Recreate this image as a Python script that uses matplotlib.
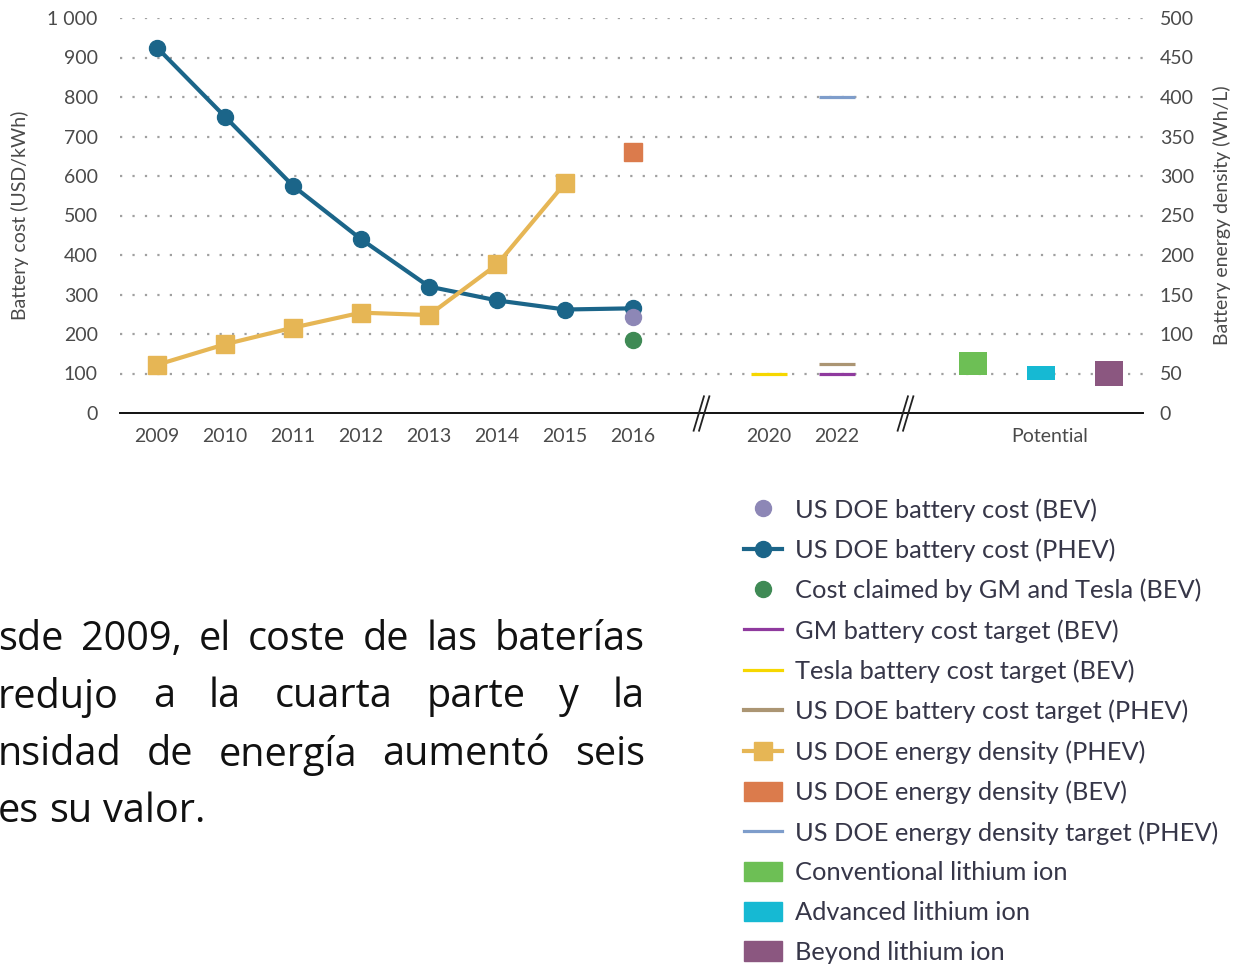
import matplotlib
matplotlib.use('Agg')
import matplotlib.pyplot as plt
from matplotlib.lines import Line2D
from matplotlib.patches import Patch
from matplotlib.path import Path

plt.rcParams['font.family'] = ['Lato', 'DejaVu Sans']

# positions on the x axis: 2009..2016, break, 2020, 2022, break, potential
years = ['2009', '2010', '2011', '2012', '2013', '2014', '2015', '2016']
year_pos = [0, 1, 2, 3, 4, 5, 6, 7]
target_labels = ['2020', '2022']
target_pos = [9, 10]
break_pos = [8, 11]
potential_pos = [12, 13, 14]

# battery cost (USD/kWh)
phev_cost = [925, 750, 575, 440, 320, 285, 262, 265]
bev_cost_2016 = 243
gm_tesla_cost_2016 = 185
tesla_target_2020 = 100
gm_target_2022 = 100
doe_phev_target_2022 = 125

# energy density (Wh/L)
phev_density = [61, 87, 108, 127, 124, 188, 291]
bev_density_2016 = 331
doe_density_target_2022 = 400

# potential ranges (USD/kWh): low, high
potential_low = [96, 84, 68]
potential_high = [154, 119, 132]
potential_names = ['Conventional lithium ion', 'Advanced lithium ion', 'Beyond lithium ion']
potential_colors = ['#6dbf55', '#16b9d3', '#8b5780']

c_blue = '#1b6589'
c_gold = '#e6b655'
grey = '#4a4a4a'

fig = plt.figure(figsize=(12.34, 9.65), dpi=100)
ax = fig.add_axes([120 / 1234, 1 - 413 / 965, (1143 - 120) / 1234, (413 - 18) / 965])
ax2 = ax.twinx()

ax.set_xlim(-0.545, 14.5)
ax.set_ylim(0, 1000)
ax2.set_ylim(0, 500)

for y in range(100, 1001, 100):
    ax.axhline(y, color='#a0a0a0', lw=1.6, ls=(0, (1, 4.6)), zorder=0)

# cost series
ax.plot(year_pos, phev_cost, color=c_blue, lw=3, marker='o', ms=11.5, zorder=4)
ax.plot([7], [bev_cost_2016], 'o', color='#8d87b6', ms=11.5, zorder=5, ls='none')
ax.plot([7], [gm_tesla_cost_2016], 'o', color='#3f8a55', ms=11.5, zorder=5, ls='none')
hw = 0.27
ax.hlines(tesla_target_2020, target_pos[0] - hw, target_pos[0] + hw, color='#f6d700', lw=2.3, zorder=4)
ax.hlines(gm_target_2022, target_pos[1] - hw, target_pos[1] + hw, color='#8f3a9e', lw=2.3, zorder=4)
ax.hlines(doe_phev_target_2022, target_pos[1] - hw, target_pos[1] + hw, color='#ab9573', lw=2.3, zorder=4)

# potential boxes
ax.bar(potential_pos, [h - l for h, l in zip(potential_high, potential_low)],
       bottom=potential_low, width=0.41, color=potential_colors, zorder=4)

# energy density series (right axis)
ax2.plot(year_pos[:7], phev_density, color=c_gold, lw=3, marker='s', ms=13, zorder=4)
ax2.plot([7], [bev_density_2016], 's', color='#db7b4c', ms=13.5, zorder=4)
ax2.hlines(doe_density_target_2022, target_pos[1] - hw, target_pos[1] + hw, color='#7e9dcb', lw=2.3, zorder=4)

# axis break marks: two slanted strokes
brk = Path([(-0.45, -1), (0.15, 1), (-0.15, -1), (0.45, 1)],
           [Path.MOVETO, Path.LINETO, Path.MOVETO, Path.LINETO])
ax.plot(break_pos, [0, 0], ls='none', marker=brk, ms=26, mew=1.3, color='#222222',
        clip_on=False, zorder=6)

for a in (ax, ax2):
    for s in ('top', 'left', 'right'):
        a.spines[s].set_visible(False)
    a.tick_params(length=0, labelsize=14, labelcolor=grey)
ax2.spines['bottom'].set_visible(False)
ax.spines['bottom'].set_color('#111111')
ax.spines['bottom'].set_linewidth(1.4)

ax.set_xticks(year_pos + target_pos + [13.13])
ax.set_xticklabels(years + target_labels + ['Potential'])
ax.tick_params(axis='x', pad=11)
ax.set_yticks(range(0, 1001, 100))
ax.set_yticklabels(['0'] + [str(v) for v in range(100, 1000, 100)] + ['1 000'])
ax.tick_params(axis='y', pad=16)
ax2.set_yticks(range(0, 501, 50))
ax2.tick_params(axis='y', pad=12)
ax.set_ylabel('Battery cost (USD/kWh)', fontsize=14, color=grey, labelpad=13)
ax2.set_ylabel('Battery energy density (Wh/L)', fontsize=14, color=grey, labelpad=14, rotation=90)

# legend
handles = [
    Line2D([], [], ls='none', marker='o', ms=11.5, color='#8d87b6'),
    Line2D([], [], color=c_blue, lw=3, marker='o', ms=11.5),
    Line2D([], [], ls='none', marker='o', ms=11.5, color='#3f8a55'),
    Line2D([], [], color='#8f3a9e', lw=2.3),
    Line2D([], [], color='#f6d700', lw=2.3),
    Line2D([], [], color='#ab9573', lw=3),
    Line2D([], [], color=c_gold, lw=3, marker='s', ms=13),
    Patch(color='#db7b4c'),
    Line2D([], [], color='#7e9dcb', lw=2.3),
] + [Patch(color=c) for c in potential_colors]
labels = ['US DOE battery cost (BEV)', 'US DOE battery cost (PHEV)',
          'Cost claimed by GM and Tesla (BEV)', 'GM battery cost target (BEV)',
          'Tesla battery cost target (BEV)', 'US DOE battery cost target (PHEV)',
          'US DOE energy density (PHEV)', 'US DOE energy density (BEV)',
          'US DOE energy density target (PHEV)'] + potential_names
fig.legend(handles, labels, loc='upper left', bbox_to_anchor=(744 / 1234, 1 - 498 / 965),
           frameon=False, fontsize=18.3, labelcolor='#363648', handlelength=1.5,
           handleheight=0.8, handletextpad=0.5, labelspacing=0.66, borderpad=0,
           borderaxespad=0)

# justified paragraph on the left, cut at the figure edge
lines = ['sde 2009, el coste de las baterías', 'redujo a la cuarta parte y la',
         'nsidad de energía aumentó seis', 'es su valor.']
line_y = [640, 697, 755, 812]
justify = [True, True, True, False]
x0, x1 = -2, 645
para_font = ['Open Sans', 'DejaVu Sans']
para_size = 28.5
renderer = fig.canvas.get_renderer()
t1 = fig.text(0, 0, 'a a', fontsize=para_size, family=para_font)
t2 = fig.text(0, 0, 'aa', fontsize=para_size, family=para_font)
space = t1.get_window_extent(renderer).width - t2.get_window_extent(renderer).width
t1.remove()
t2.remove()
for text, yy, jus in zip(lines, line_y, justify):
    words = text.split(' ')
    objs = [fig.text(0, 1 - yy / 965, w, fontsize=para_size, color='#111111', va='center',
                     family=para_font) for w in words]
    widths = [o.get_window_extent(renderer).width for o in objs]
    gap = (x1 - x0 - sum(widths)) / (len(words) - 1) if jus else space
    x = x0
    for o, w in zip(objs, widths):
        o.set_x(x / 1234)
        x += w + gap

fig.savefig('out.png', dpi=100)
